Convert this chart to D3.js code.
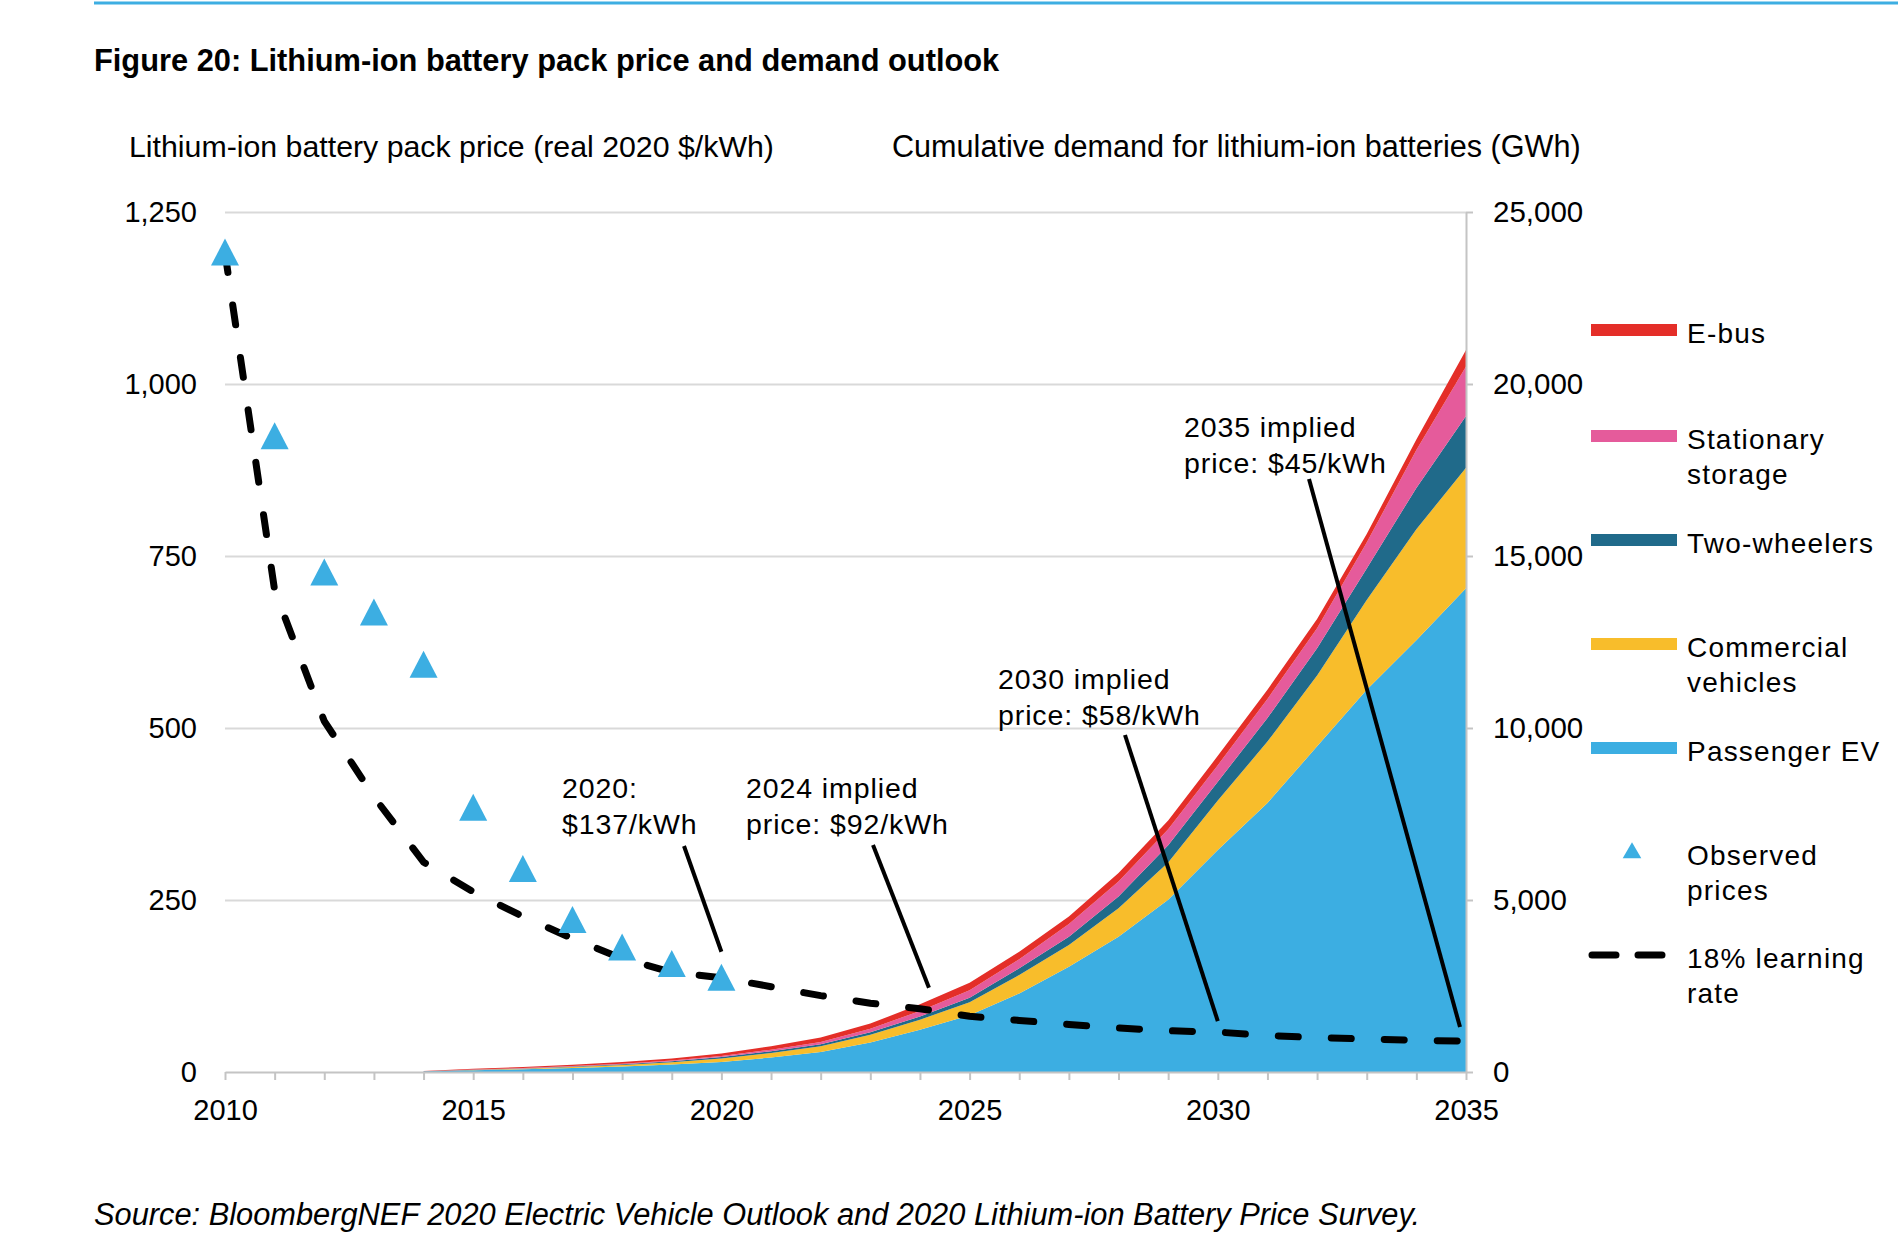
<!DOCTYPE html>
<html>
<head>
<meta charset="utf-8">
<script src="https://cdn.jsdelivr.net/npm/d3@7"></script>
<style>
  body { margin: 0; background: #fff; }
  svg { display: block; font-family: "Liberation Sans", Arial, sans-serif; }
</style>
</head>
<body>
<div id="chart"></div>
<script>
// Observed pack prices (real 2020 $/kWh)
const priceYears = [2010, 2011, 2012, 2013, 2014, 2015, 2016, 2017, 2018, 2019, 2020];
const observedPrices = [1191, 924, 726, 668, 592, 384, 295, 221, 181, 157, 137];

// 18% learning rate curve
const curveYears = [2010, 2011, 2012, 2013, 2014, 2015, 2016, 2017, 2018, 2019, 2020, 2021, 2022,
  2023, 2024, 2025, 2026, 2027, 2028, 2029, 2030, 2031, 2032, 2033, 2034, 2035];
const learningCurve = [1191, 700, 510, 400, 305, 262, 226, 194, 165, 145, 137, 124, 111,
  100, 92, 81, 75, 69, 64, 60, 58, 53, 50, 48, 46, 45];

// Cumulative demand (GWh) by segment
const demandYears = [2014, 2015, 2016, 2017, 2018, 2019, 2020, 2021, 2022, 2023, 2024,
  2025, 2026, 2027, 2028, 2029, 2030, 2031, 2032, 2033, 2034, 2035];
const passengerEV = [15, 50, 80, 115, 160, 215, 291, 420, 581, 860, 1230,
  1650, 2285, 3061, 3935, 5005, 6450, 7820, 9467, 11113, 12554, 14063];
const commercialVehicles = [3, 10, 17, 30, 45, 70, 98, 130, 166, 220, 290,
  380, 533, 632, 828, 1085, 1440, 1784, 2058, 2607, 3224, 3499];
const twoWheelers = [2, 5, 8, 13, 20, 30, 47, 52, 58, 75, 95,
  130, 195, 242, 338, 500, 550, 686, 796, 920, 1200, 1509];
const stationaryStorage = [3, 8, 10, 14, 18, 22, 29, 46, 67, 100, 160,
  215, 263, 370, 438, 470, 480, 553, 580, 750, 1100, 1440];
const eBus = [7, 22, 30, 38, 45, 53, 70, 100, 128, 152, 195,
  220, 222, 213, 244, 250, 270, 270, 270, 251, 307, 481];

const priceTicks = [0, 250, 500, 750, 1000, 1250];
const demandTicks = [0, 5000, 10000, 15000, 20000, 25000];
const yearLabels = [2010, 2015, 2020, 2025, 2030, 2035];

const segments = [
  { key: "passenger", label: ["Passenger EV"], values: passengerEV, color: "#3caee2" },
  { key: "commercial", label: ["Commercial", "vehicles"], values: commercialVehicles, color: "#f8bd2b" },
  { key: "two", label: ["Two-wheelers"], values: twoWheelers, color: "#206a8a" },
  { key: "stationary", label: ["Stationary", "storage"], values: stationaryStorage, color: "#e55b9b" },
  { key: "ebus", label: ["E-bus"], values: eBus, color: "#e42e28" }
];

const annotations = [
  { lines: ["2020:", "$137/kWh"], year: 2020, price: 137 },
  { lines: ["2024 implied", "price: $92/kWh"], year: 2024, price: 92 },
  { lines: ["2030 implied", "price: $58/kWh"], year: 2030, price: 58 },
  { lines: ["2035 implied", "price: $45/kWh"], year: 2035, price: 45 }
];

const W = 1898, H = 1258;
const plot = { left: 225, right: 1466, top: 212, bottom: 1072 };

const svg = d3.select("#chart").append("svg")
  .attr("width", W).attr("height", H);

svg.append("rect").attr("width", W).attr("height", H).attr("fill", "#fff");

// top rule
svg.append("line")
  .attr("x1", 94).attr("x2", W).attr("y1", 3).attr("y2", 3)
  .attr("stroke", "#3daee2").attr("stroke-width", 3);

svg.append("text")
  .attr("x", 94).attr("y", 71)
  .attr("font-size", 30.8).attr("font-weight", "bold")
  .text("Figure 20: Lithium-ion battery pack price and demand outlook");

svg.append("text")
  .attr("x", 129).attr("y", 157).attr("font-size", 30.3)
  .text("Lithium-ion battery pack price (real 2020 $/kWh)");

svg.append("text")
  .attr("x", 892).attr("y", 157).attr("font-size", 30.6)
  .text("Cumulative demand for lithium-ion batteries (GWh)");

// scales
const x = d3.scaleLinear().domain([2010, 2035]).range([plot.left, plot.right]);
const yPrice = d3.scaleLinear().domain([0, 1250]).range([plot.bottom, plot.top]);
const yDemand = d3.scaleLinear().domain([0, 25000]).range([plot.bottom, plot.top]);

// gridlines
svg.append("g")
  .attr("transform", `translate(${plot.left},0)`)
  .call(d3.axisLeft(yPrice).tickValues(priceTicks.slice(1))
    .tickSize(-(plot.right - plot.left)).tickFormat(""))
  .call(g => g.select(".domain").remove())
  .call(g => g.selectAll("line").attr("stroke", "#d9d9d9").attr("stroke-width", 2));

// stacked areas
const table = demandYears.map((yr, i) => {
  const row = { year: yr };
  segments.forEach(s => { row[s.key] = s.values[i]; });
  return row;
});
const stack = d3.stack().keys(segments.map(s => s.key));
const layers = stack(table);
const area = d3.area()
  .x(d => x(d.data.year))
  .y0(d => yDemand(d[0]))
  .y1(d => yDemand(d[1]));

svg.append("g").selectAll("path")
  .data(layers)
  .join("path")
  .attr("d", area)
  .attr("fill", (d, i) => segments[i].color);

// axes
const axisColor = "#c4c4c4";

svg.append("g")
  .attr("transform", `translate(0,${plot.bottom})`)
  .call(d3.axisBottom(x).tickValues(curveYears).tickSize(8).tickSizeOuter(0).tickPadding(19)
    .tickFormat(d => yearLabels.includes(d) ? d : ""))
  .call(g => g.select(".domain").attr("stroke", axisColor).attr("stroke-width", 2))
  .call(g => g.selectAll(".tick line").attr("stroke", axisColor).attr("stroke-width", 2))
  .call(g => g.selectAll("text").attr("font-size", 29).attr("fill", "#000")
    .attr("font-family", "Liberation Sans, Arial, sans-serif"));

svg.append("g")
  .attr("transform", `translate(${plot.left},0)`)
  .call(d3.axisLeft(yPrice).tickValues(priceTicks).tickSize(0).tickPadding(28)
    .tickFormat(d3.format(",")))
  .call(g => g.select(".domain").remove())
  .call(g => g.selectAll("text").attr("font-size", 29).attr("fill", "#000")
    .attr("font-family", "Liberation Sans, Arial, sans-serif"));

svg.append("g")
  .attr("transform", `translate(${plot.right},0)`)
  .call(d3.axisRight(yDemand).tickValues(demandTicks).tickSize(7).tickSizeOuter(0).tickPadding(20)
    .tickFormat(d3.format(",")))
  .call(g => g.select(".domain").attr("stroke", axisColor).attr("stroke-width", 2))
  .call(g => g.selectAll(".tick line").attr("stroke", axisColor).attr("stroke-width", 2))
  .call(g => g.selectAll("text").attr("font-size", 29.5).attr("fill", "#000")
    .attr("font-family", "Liberation Sans, Arial, sans-serif"));

// learning curve
const curve = d3.line()
  .x((d, i) => x(curveYears[i]))
  .y(d => yPrice(d));

svg.append("path")
  .datum(learningCurve)
  .attr("d", curve)
  .attr("fill", "none")
  .attr("stroke", "#000")
  .attr("stroke-width", 7)
  .attr("stroke-linecap", "round")
  .attr("stroke-dasharray", "20,33");

// observed prices
const tri = "M0,-14L14,13L-14,13Z";
svg.append("g").selectAll("path")
  .data(observedPrices)
  .join("path")
  .attr("d", tri)
  .attr("transform", (d, i) => `translate(${x(priceYears[i])},${yPrice(d)})`)
  .attr("fill", "#3caee2");

// annotations: text block position and leader line start
const annLayout = [
  { tx: 562, ty: 798, lx: 684, ly: 846, dx: 0, dy: -26 },
  { tx: 746, ty: 798, lx: 873, ly: 845, dx: 9, dy: -21 },
  { tx: 998, ty: 689, lx: 1125, ly: 735, dx: 0, dy: -11 },
  { tx: 1184, ty: 437, lx: 1309, ly: 479, dx: -6, dy: -14 }
];

annotations.forEach((a, i) => {
  const p = annLayout[i];
  const t = svg.append("text")
    .attr("x", p.tx).attr("y", p.ty)
    .attr("font-size", 28.5).attr("letter-spacing", 0.9);
  a.lines.forEach((ln, j) => {
    t.append("tspan").attr("x", p.tx).attr("dy", j === 0 ? 0 : 36).text(ln);
  });
  svg.append("line")
    .attr("x1", p.lx).attr("y1", p.ly)
    .attr("x2", x(a.year) + p.dx).attr("y2", yPrice(a.price) + p.dy)
    .attr("stroke", "#000").attr("stroke-width", 4);
});

// legend
const legend = svg.append("g").attr("font-size", 28).attr("letter-spacing", 1.2);
const legendRows = [
  { seg: segments[4], y: 330 },
  { seg: segments[3], y: 436 },
  { seg: segments[2], y: 540 },
  { seg: segments[1], y: 644 },
  { seg: segments[0], y: 748 }
];
legendRows.forEach(r => {
  legend.append("rect")
    .attr("x", 1591).attr("y", r.y - 6)
    .attr("width", 86).attr("height", 12)
    .attr("fill", r.seg.color);
  const t = legend.append("text").attr("x", 1687).attr("y", r.y + 13);
  r.seg.label.forEach((ln, j) => {
    t.append("tspan").attr("x", 1687).attr("dy", j === 0 ? 0 : 35).text(ln);
  });
});

legend.append("path")
  .attr("d", d3.symbol(d3.symbolTriangle, 150)())
  .attr("transform", "translate(1632,853)")
  .attr("fill", "#3caee2");
const t1 = legend.append("text").attr("x", 1687).attr("y", 865);
t1.append("tspan").attr("x", 1687).text("Observed");
t1.append("tspan").attr("x", 1687).attr("dy", 35).text("prices");

legend.append("line")
  .attr("x1", 1592).attr("x2", 1672).attr("y1", 955).attr("y2", 955)
  .attr("stroke", "#000").attr("stroke-width", 7)
  .attr("stroke-linecap", "round").attr("stroke-dasharray", "24,22");
const t2 = legend.append("text").attr("x", 1687).attr("y", 968);
t2.append("tspan").attr("x", 1687).text("18% learning");
t2.append("tspan").attr("x", 1687).attr("dy", 35).text("rate");

// source
svg.append("text")
  .attr("x", 94).attr("y", 1225)
  .attr("font-size", 30.8).attr("font-style", "italic")
  .text("Source: BloombergNEF 2020 Electric Vehicle Outlook and 2020 Lithium-ion Battery Price Survey.");
</script>
</body>
</html>
